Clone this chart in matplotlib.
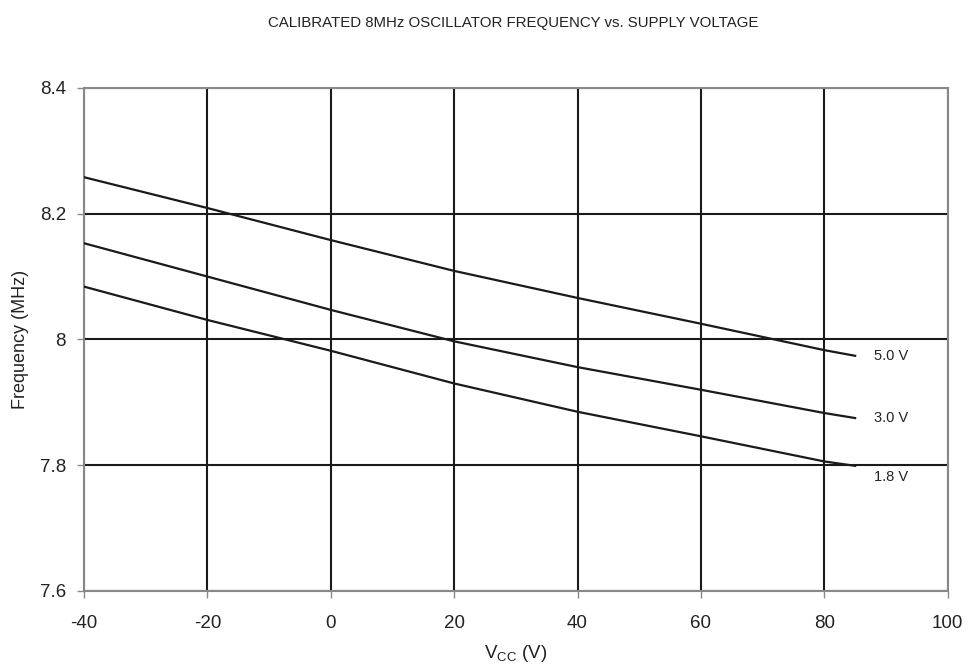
import matplotlib
matplotlib.use("Agg")
import matplotlib.pyplot as plt

plt.rcParams['font.family'] = ['Liberation Sans', 'DejaVu Sans']
plt.rcParams['mathtext.fontset'] = 'custom'
plt.rcParams['mathtext.rm'] = 'Liberation Sans'
plt.rcParams['axes.unicode_minus'] = False

temp = [-40, -20, 0, 20, 40, 60, 80, 85]
f_50 = [8.258, 8.209, 8.158, 8.109, 8.066, 8.025, 7.983, 7.974]
f_30 = [8.153, 8.100, 8.047, 7.997, 7.956, 7.920, 7.883, 7.875]
f_18 = [8.084, 8.031, 7.982, 7.930, 7.885, 7.846, 7.806, 7.799]
labels = ["5.0 V", "3.0 V", "1.8 V"]
label_y = [7.974, 7.875, 7.781]

fig = plt.figure(figsize=(9.77, 6.69), dpi=100)
ax = fig.add_axes([0.086, 0.1166, 0.884, 0.752])

for f in (f_50, f_30, f_18):
    ax.plot(temp, f, color='#1a1a1a', lw=1.6, zorder=3)

for lab, yy in zip(labels, label_y):
    ax.text(88, yy, lab, fontsize=10.5, va='center', ha='left', color='#222222')

ax.set_xlim(-40, 100)
ax.set_ylim(7.6, 8.4)
ax.set_xticks(range(-40, 101, 20))
ax.set_yticks([7.6, 7.8, 8.0, 8.2, 8.4])
ax.set_yticklabels(['7.6', '7.8', '8', '8.2', '8.4'])
ax.grid(True, color='#1a1a1a', lw=1.5)
ax.set_axisbelow(True)

for s in ax.spines.values():
    s.set_color('#888888')
    s.set_linewidth(1.5)
ax.tick_params(colors='#888888', labelcolor='#222222', labelsize=13.5, length=5, width=1)
ax.tick_params(axis='x', pad=12)
ax.tick_params(axis='y', pad=8)

ax.set_xlabel(r'$\mathregular{V_{CC}}$ (V)', fontsize=13.5, color='#222222', labelpad=8)
ax.set_ylabel('Frequency (MHz)', fontsize=13, color='#222222', labelpad=8)
fig.text(0.525, 0.965, 'CALIBRATED 8MHz OSCILLATOR FREQUENCY vs. SUPPLY VOLTAGE',
         ha='center', va='center', fontsize=10.8, color='#222222')

fig.savefig('out.png', dpi=100)
